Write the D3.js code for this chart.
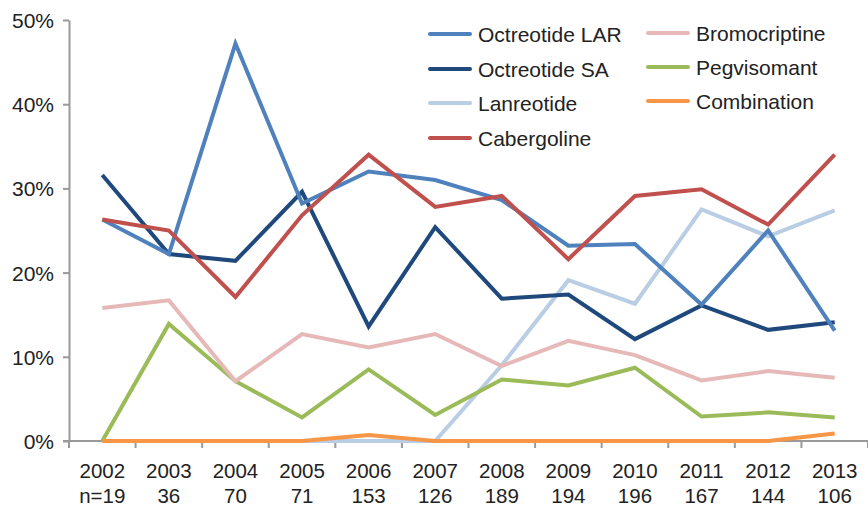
<!DOCTYPE html>
<html><head><meta charset="utf-8">
<script src="https://cdn.jsdelivr.net/npm/d3@7"></script>
<style>body{margin:0;background:#fff}svg{display:block}text{font-family:"Liberation Sans",Arial,Helvetica,sans-serif;fill:#222}</style>
</head><body>
<script>
const years = ["2002","2003","2004","2005","2006","2007","2008","2009","2010","2011","2012","2013"];
const nLabels = ["n=19","36","70","71","153","126","189","194","196","167","144","106"];
const yTicks = [0,10,20,30,40,50];

const octreotideLAR = [26.3,22.2,47.2,28.2,32.0,31.0,28.6,23.2,23.4,16.2,25.0,13.1];
const octreotideSA  = [31.6,22.2,21.4,29.6,13.6,25.4,16.9,17.4,12.1,16.1,13.2,14.1];
const lanreotide    = [0,0,0,0,0,0,9.0,19.1,16.3,27.5,24.3,27.4];
const cabergoline   = [26.3,25.0,17.1,26.8,34.0,27.8,29.1,21.6,29.1,29.9,25.7,34.0];
const bromocriptine = [15.8,16.7,7.1,12.7,11.1,12.7,8.9,11.9,10.2,7.2,8.3,7.5];
const pegvisomant   = [0,13.9,7.1,2.8,8.5,3.1,7.3,6.6,8.7,2.9,3.4,2.8];
const combination   = [0,0,0,0,0.7,0,0,0,0,0,0,0.9];

const seriesNames = ["Octreotide LAR","Octreotide SA","Lanreotide","Cabergoline","Bromocriptine","Pegvisomant","Combination"];
const seriesValues = [octreotideLAR,octreotideSA,lanreotide,cabergoline,bromocriptine,pegvisomant,combination];
const colors = ["#4F81BD","#1F497D","#B9CDE5","#C0504D","#E6B9B8","#9BBB59","#F79646"];

const W=868,H=506;
const svg=d3.select("body").append("svg").attr("width",W).attr("height",H);
const x=d3.scaleBand().domain(years).range([69,868]);
const y=d3.scaleLinear().domain([0,50]).range([441,20]);

// y axis
const ya=svg.append("g").attr("transform","translate(69,0)")
  .call(d3.axisLeft(y).tickValues(yTicks).tickFormat(d=>d+"%").tickSize(6).tickSizeOuter(0));
ya.select(".domain").attr("stroke","#999").attr("stroke-width",2);
ya.selectAll(".tick line").attr("stroke","#999").attr("stroke-width",2);
ya.selectAll(".tick text").attr("x",-15).attr("dy","0.36em").style("font-size","21px").style("font-family","'Liberation Sans',Arial,sans-serif").attr("fill","#222");

// x axis
const xa=svg.append("g").attr("transform","translate(0,441)")
  .call(d3.axisBottom(x).tickSize(0).tickFormat(""));
xa.select(".domain").attr("stroke","#999").attr("stroke-width",2).attr("d","M63,0H868");
const xb=years.map(d=>x(d));
svg.append("g").selectAll("line").data(xb.concat([868])).join("line")
  .attr("x1",d=>d).attr("x2",d=>d).attr("y1",441).attr("y2",448)
  .attr("stroke","#999").attr("stroke-width",2);
const lab=svg.append("g");
years.forEach((yr,i)=>{
  const cx=x(yr)+x.bandwidth()/2;
  lab.append("text").attr("x",cx).attr("y",478).attr("text-anchor","middle").style("font-size","20.5px").text(yr);
  lab.append("text").attr("x",cx).attr("y",503).attr("text-anchor","middle").style("font-size","20.5px").text(nLabels[i]);
});

// lines
const line=d3.line().x((d,i)=>x(years[i])+x.bandwidth()/2).y(d=>y(d));
const drawOrder=[2,5,4,1,0,3,6];
drawOrder.forEach(k=>{
  svg.append("path").datum(seriesValues[k]).attr("fill","none")
    .attr("stroke",colors[k]).attr("stroke-width",4).attr("stroke-linejoin","miter")
    .attr("d",line);
});

// legend
const leg=svg.append("g");
const legPos=[[430,34],[430,69],[430,103],[430,138],[648,33],[648,67],[648,101]];
seriesNames.forEach((n,i)=>{
  const [lx,ly]=legPos[i];
  leg.append("line").attr("x1",lx).attr("x2",lx+40).attr("y1",ly).attr("y2",ly)
    .attr("stroke",colors[i]).attr("stroke-width",4).attr("stroke-linecap","round");
  leg.append("text").attr("x",lx+48).attr("y",ly).attr("dy","0.36em").style("font-size","21px").text(n);
});
</script>
</body></html>
